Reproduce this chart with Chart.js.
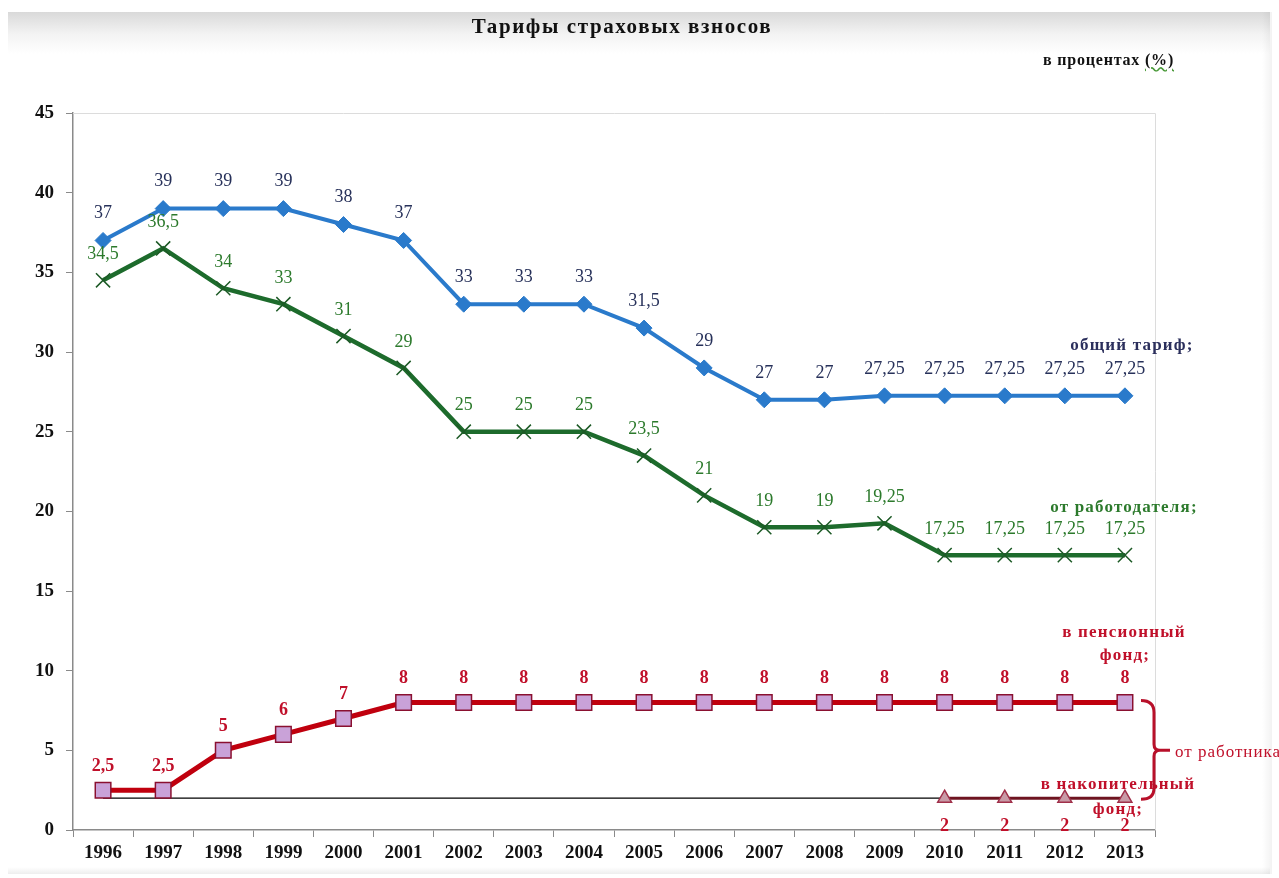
<!DOCTYPE html>
<html>
<head>
<meta charset="utf-8">
<script src="https://cdn.jsdelivr.net/npm/chart.js@4"></script>
<style>
  html, body { margin: 0; padding: 0; background: #fff; }
  #wrap { position: relative; width: 1279px; height: 878px; overflow: hidden; background: #fff; }
  #shade { position: absolute; left: 8px; top: 12px; width: 1262px; height: 862px;
    background: linear-gradient(to bottom, #d9d9d9 0px, #f3f3f3 22px, #fff 42px, #fff 855px, #eeeeee 862px); }
  #shadeR { position: absolute; left: 1262px; top: 12px; width: 10px; height: 862px;
    background: linear-gradient(to right, rgba(0,0,0,0), rgba(0,0,0,0.05)); }
  #chart { position: absolute; left: 0; top: 0; }
  .title { position: absolute; top: 14px; left: 0; width: 1244px; text-align: center;
    font: bold 21px "Liberation Serif", serif; color: #111; letter-spacing: 1.6px; }
  .units { position: absolute; top: 51px; left: 1043px;
    font: bold 16px "Liberation Serif", serif; color: #111; letter-spacing: 0.8px; }
  .units span { text-decoration: underline wavy #4a9a3a; }
</style>
</head>
<body>
<div id="wrap">
  <div id="shade"></div>
  <div id="shadeR"></div>
  <canvas id="chart" width="1279" height="878"></canvas>
  <div class="title">Тарифы страховых взносов</div>
  <div class="units">в процентах <span>(%)</span></div>
</div>
<script>
const years = ["1996", "1997", "1998", "1999", "2000", "2001", "2002", "2003", "2004",
  "2005", "2006", "2007", "2008", "2009", "2010", "2011", "2012", "2013"];

const totalRate = [37, 39, 39, 39, 38, 37, 33, 33, 33, 31.5, 29, 27, 27, 27.25, 27.25, 27.25, 27.25, 27.25];
const employerRate = [34.5, 36.5, 34, 33, 31, 29, 25, 25, 25, 23.5, 21, 19, 19, 19.25, 17.25, 17.25, 17.25, 17.25];
const pensionFund = [2.5, 2.5, 5, 6, 7, 8, 8, 8, 8, 8, 8, 8, 8, 8, 8, 8, 8, 8];
const fundedPart = [null, null, null, null, null, null, null, null, null, null, null, null, null, null, 2, 2, 2, 2];
const baseLine = [2, 2, 2, 2, 2, 2, 2, 2, 2, 2, 2, 2, 2, 2, 2, 2, 2, 2];

const yTicks = [0, 5, 10, 15, 20, 25, 30, 35, 40, 45];

const serif = '"Liberation Serif", "Times New Roman", serif';

// value labels: dataset index -> colour, offset, font
const valueLabels = {
  0: { color: "#27315a", dy: -27, font: "18px " + serif },
  1: { color: "#2c7a2c", dy: -26, font: "18px " + serif },
  2: { color: "#c0102a", dy: -24, font: "bold 18px " + serif },
  3: { color: "#c0102a", dy: 28, font: "bold 18px " + serif }
};

function fmt(v) {
  return String(v).replace(".", ",");
}

const labelsPlugin = {
  id: "labels",
  afterDatasetsDraw(chart) {
    const ctx = chart.ctx;
    ctx.save();
    ctx.textAlign = "center";
    ctx.textBaseline = "middle";
    Object.keys(valueLabels).forEach(function (i) {
      const cfg = valueLabels[i];
      const meta = chart.getDatasetMeta(+i);
      const data = chart.data.datasets[i].data;
      ctx.fillStyle = cfg.color;
      ctx.font = cfg.font;
      meta.data.forEach(function (pt, j) {
        if (data[j] === null) return;
        ctx.fillText(fmt(data[j]), pt.x, pt.y + cfg.dy);
      });
    });

    const area = chart.chartArea;
    const y = chart.scales.y;

    // light frame on top and right
    ctx.strokeStyle = "#dcdcdc";
    ctx.lineWidth = 1;
    ctx.beginPath();
    ctx.moveTo(area.left, area.top + 0.5);
    ctx.lineTo(area.right + 0.5, area.top + 0.5);
    ctx.lineTo(area.right + 0.5, area.bottom);
    ctx.stroke();

    // series names
    ctx.font = "bold 17px " + serif;
    ctx.letterSpacing = "1.2px";
    ctx.fillStyle = "#2b2f5c";
    ctx.fillText("общий тариф;", 1132, 346);
    ctx.fillStyle = "#2c7a2c";
    ctx.fillText("от работодателя;", 1124, 508);
    ctx.fillStyle = "#c0102a";
    ctx.fillText("в пенсионный", 1124, 633);
    ctx.fillText("фонд;", 1125, 656);
    ctx.fillText("в накопительный", 1118, 785);
    ctx.fillText("фонд;", 1118, 810);

    // bracket joining the two employee parts
    const yTop = y.getPixelForValue(8);
    const yBot = y.getPixelForValue(2);
    const yMid = (yTop + yBot) / 2;
    const bx = 1154;
    ctx.strokeStyle = "#b8102a";
    ctx.lineWidth = 3;
    ctx.beginPath();
    ctx.moveTo(1141, yTop - 2);
    ctx.quadraticCurveTo(bx, yTop - 2, bx, yTop + 10);
    ctx.lineTo(bx, yMid - 6);
    ctx.quadraticCurveTo(bx, yMid, bx + 6, yMid);
    ctx.lineTo(1170, yMid);
    ctx.moveTo(bx + 6, yMid);
    ctx.quadraticCurveTo(bx, yMid, bx, yMid + 6);
    ctx.lineTo(bx, yBot - 10);
    ctx.quadraticCurveTo(bx, yBot + 1, 1141, yBot + 1);
    ctx.stroke();

    ctx.textAlign = "left";
    ctx.font = "17px " + serif;
    ctx.letterSpacing = "1px";
    ctx.fillStyle = "#c0102a";
    ctx.fillText("от работника", 1175, yMid + 2);
    ctx.restore();
  }
};

const data = {
  labels: years,
  datasets: [
    {
      label: "общий тариф",
      data: totalRate,
      borderColor: "#2a7acb",
      backgroundColor: "#2a7acb",
      borderWidth: 4,
      pointStyle: "rectRot",
      pointRadius: 8,
      pointBorderWidth: 1
    },
    {
      label: "от работодателя",
      data: employerRate,
      borderColor: "#1d6b2c",
      backgroundColor: "#1d6b2c",
      borderWidth: 4.5,
      pointStyle: "crossRot",
      pointRadius: 10,
      pointBorderWidth: 1.5,
      pointBorderColor: "#1d5a26"
    },
    {
      label: "в пенсионный фонд",
      data: pensionFund,
      borderColor: "#c0000e",
      backgroundColor: "#c9a2d8",
      borderWidth: 5,
      pointStyle: "rect",
      pointRadius: 11,
      pointBorderWidth: 1.5,
      pointBorderColor: "#8a1030"
    },
    {
      label: "в накопительный фонд",
      data: fundedPart,
      borderColor: "#6e1420",
      backgroundColor: "#c89aa6",
      borderWidth: 3,
      pointStyle: "triangle",
      pointRadius: 8,
      pointBorderWidth: 1.5,
      pointBorderColor: "#a0304a"
    },
    {
      label: "base",
      data: baseLine,
      borderColor: "#000",
      borderWidth: 1.3,
      pointRadius: 0,
      order: 10
    }
  ]
};

const config = {
  type: "line",
  data: data,
  plugins: [labelsPlugin],
  options: {
    responsive: false,
    animation: false,
    layout: { padding: { left: 0, top: 113, right: 124, bottom: 0 } },
    plugins: {
      legend: { display: false },
      tooltip: { enabled: false }
    },
    elements: { line: { tension: 0 } },
    scales: {
      x: {
        offset: true,
        grid: { drawOnChartArea: false, drawTicks: true, tickLength: 7, color: "#8a8a8a", offset: true },
        border: { color: "#8a8a8a", width: 1.5 },
        ticks: { color: "#111", font: { family: serif, size: 19, weight: "bold" }, padding: 5, maxRotation: 0 },
        afterFit(s) { s.height = 48; }
      },
      y: {
        min: 0,
        max: 45,
        afterBuildTicks(s) { s.ticks = yTicks.map(v => ({ value: v })); },
        grid: { drawOnChartArea: false, drawTicks: true, tickLength: 7, color: "#8a8a8a" },
        border: { color: "#8a8a8a", width: 1.5 },
        ticks: { color: "#111", font: { family: serif, size: 19, weight: "bold" }, padding: 12 },
        afterFit(s) { s.width = 73; }
      }
    }
  }
};

const myChart = new Chart(document.getElementById("chart"), config);
</script>
</body>
</html>
